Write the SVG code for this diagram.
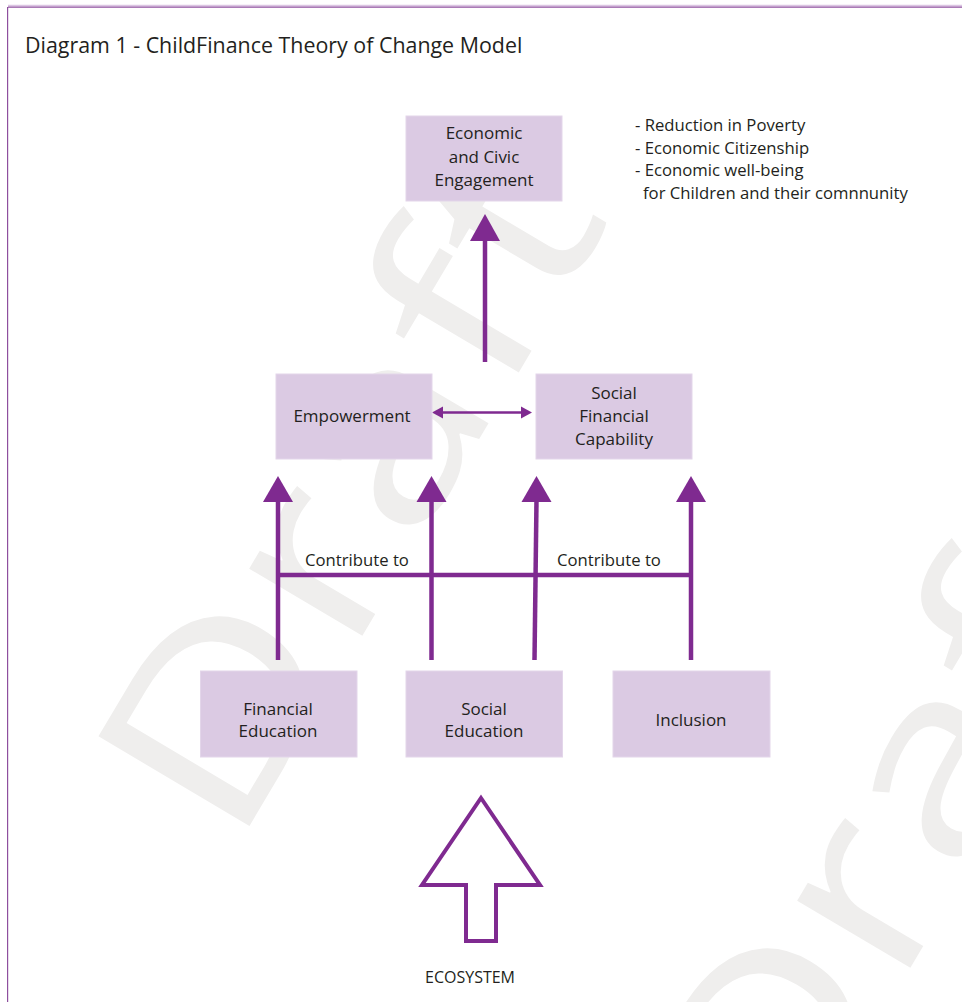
<svg xmlns="http://www.w3.org/2000/svg" width="962" height="1002" viewBox="0 0 962 1002">
<defs>
<style>
.wm{font-family:"Open Sans","DejaVu Sans",sans-serif;font-size:246px;fill:#efeeed}
.box{fill:#dbcae3;stroke:#e3d6ea;stroke-width:1}
.t{font-family:"Open Sans","Noto Sans",sans-serif;font-size:17px;fill:#231f20;text-anchor:middle}
.tl{font-family:"Open Sans","Noto Sans",sans-serif;font-size:16.7px;fill:#231f20}
.ln{stroke:#7f2a90;stroke-width:4.5;fill:none}
.hd{fill:#7f2a90}
</style>
</defs>
<rect x="0" y="0" width="962" height="1002" fill="#ffffff"/>
<g id="watermark">
<text class="wm" transform="translate(234,852) rotate(-59.3) scale(1.26,1)">Draft</text>
<text class="wm" transform="translate(782,1184) rotate(-59.3) scale(1.26,1)">Draft</text>
</g>
<g id="frame">
<line x1="8" y1="5.5" x2="962" y2="5.5" stroke="#dcc5e3" stroke-width="1.5"/>
<line x1="8" y1="7.2" x2="962" y2="7.2" stroke="#8e4f9e" stroke-width="1.2"/>
<line x1="7.6" y1="7" x2="7.6" y2="1002" stroke="#8e4f9e" stroke-width="1.2"/>
</g>
<text id="title" x="25" y="53" font-family="Open Sans, Noto Sans, sans-serif" font-size="21.4" fill="#231f20">Diagram 1 - ChildFinance Theory of Change Model</text>
<g id="connectors">
<line class="ln" x1="485" y1="362" x2="485" y2="240"/>
<polygon class="hd" points="485,214 500,241 470,241"/>
<line stroke="#7f2a90" stroke-width="2.6" x1="440" y1="412.5" x2="524" y2="412.5"/>
<polygon class="hd" points="432,412.5 443,406.5 443,418.5"/>
<polygon class="hd" points="532,412.5 521,406.5 521,418.5"/>
<line class="ln" x1="278" y1="575" x2="692" y2="575"/>
<line class="ln" x1="278" y1="660" x2="278" y2="500"/>
<polygon class="hd" points="278,476 293,502 263,502"/>
<line class="ln" x1="431.5" y1="660" x2="431.5" y2="500"/>
<polygon class="hd" points="431.5,476 446.5,502 416.5,502"/>
<line class="ln" x1="534.5" y1="660" x2="536.5" y2="500"/>
<polygon class="hd" points="536.5,476 551.5,502 521.5,502"/>
<line class="ln" x1="691" y1="660" x2="691" y2="500"/>
<polygon class="hd" points="691,476 706,502 676,502"/>
<polygon points="481,798 540,885 496,885 496,941 466,941 466,885 422,885" fill="#ffffff" stroke="#7f2a90" stroke-width="4"/>
<text class="tl" x="357" y="566" text-anchor="middle">Contribute to</text>
<text class="tl" x="609" y="566" text-anchor="middle">Contribute to</text>
</g>
<g id="n-engagement">
<rect class="box" x="406" y="116" width="156" height="85"/>
<text class="t" x="484" y="139">Economic</text>
<text class="t" x="484" y="163">and Civic</text>
<text class="t" x="484" y="186">Engagement</text>
</g>
<g id="n-outcomes">
<text class="tl" x="635" y="131">- Reduction in Poverty</text>
<text class="tl" x="635" y="154">- Economic Citizenship</text>
<text class="tl" x="635" y="176">- Economic well-being</text>
<text class="tl" x="643" y="199">for Children and their comnnunity</text>
</g>
<g id="n-empowerment">
<rect class="box" x="276" y="374" width="156" height="85"/>
<text class="t" x="352" y="422">Empowerment</text>
</g>
<g id="n-sfc">
<rect class="box" x="536" y="374" width="156" height="85"/>
<text class="t" x="614" y="399">Social</text>
<text class="t" x="614" y="422">Financial</text>
<text class="t" x="614" y="445">Capability</text>
</g>
<g id="n-fined">
<rect class="box" x="200.5" y="671" width="156.5" height="86"/>
<text class="t" x="278" y="715">Financial</text>
<text class="t" x="278" y="737">Education</text>
</g>
<g id="n-soced">
<rect class="box" x="406" y="671" width="156.5" height="86"/>
<text class="t" x="484" y="715">Social</text>
<text class="t" x="484" y="737">Education</text>
</g>
<g id="n-inclusion">
<rect class="box" x="613" y="671" width="157" height="86"/>
<text class="t" x="691" y="726">Inclusion</text>
</g>
<text id="ecosystem" x="470" y="983" font-family="Open Sans, Noto Sans, sans-serif" font-size="16" fill="#231f20" text-anchor="middle">ECOSYSTEM</text>
</svg>
